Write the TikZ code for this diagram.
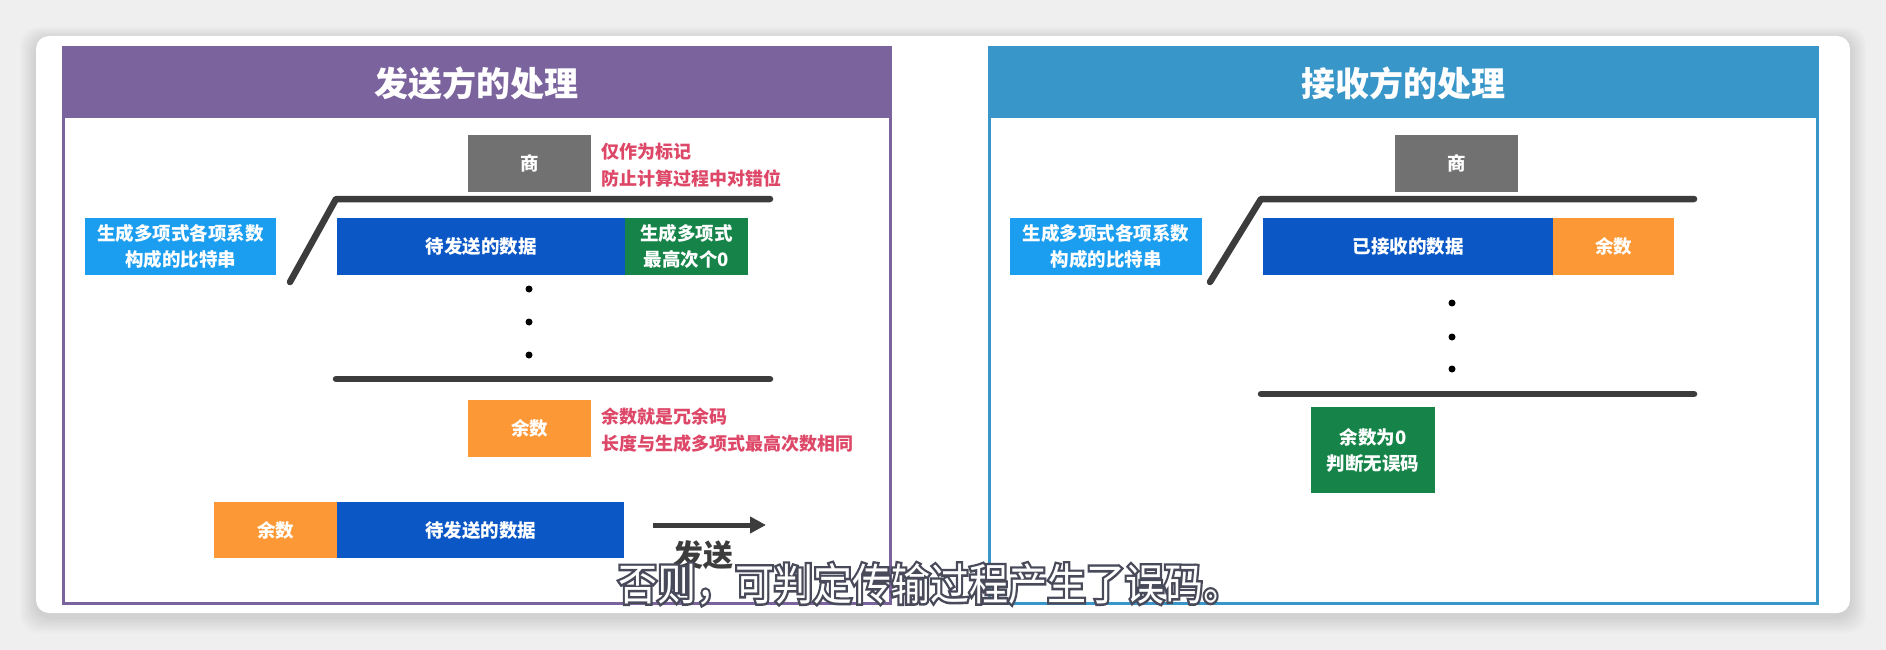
\documentclass[tikz,border=0pt]{standalone}
\usepackage{fontspec}
\setmainfont{Noto Sans CJK SC}
\newfontfamily\subout{Noto Sans CJK SC}[FakeBold=11]
\usetikzlibrary{arrows.meta}
\definecolor{bg}{RGB}{239,239,239}
\definecolor{purp}{RGB}{123,99,158}
\definecolor{skyb}{RGB}{57,150,201}
\definecolor{boxgray}{RGB}{113,113,113}
\definecolor{lblue}{RGB}{27,158,240}
\definecolor{dblue}{RGB}{11,87,198}
\definecolor{dgreen}{RGB}{22,132,72}
\definecolor{orng}{RGB}{253,152,54}
\definecolor{annred}{RGB}{222,72,104}
\definecolor{linec}{RGB}{60,60,60}
\definecolor{subdark}{RGB}{72,74,90}
\begin{document}
\begin{tikzpicture}[x=1pt,y=-1pt,
  bx/.style={inner sep=0pt, outer sep=0pt, text=white, font=\fontsize{18.5}{26}\selectfont\bfseries, align=center, anchor=north west},
  ttl/.style={text=white, font=\fontsize{34}{38}\selectfont\bfseries, inner sep=0pt},
  ann/.style={text=annred, font=\fontsize{18}{27}\selectfont\bfseries, align=left, anchor=west, inner sep=0pt},
  divline/.style={draw=linec, line width=6.5pt, line cap=round, line join=round},
  dotn/.style={circle, fill=black, inner sep=0pt, minimum size=7pt},
  sendarrow/.style={draw=linec, line width=5pt, -{Triangle[length=16pt,width=16pt]}},
  sendlbl/.style={text=linec, font=\fontsize{30}{32}\selectfont\bfseries, inner sep=0pt},
  subo/.style={text=subdark, font=\fontsize{39}{44}\subout, inner sep=0pt},
  subt/.style={text=white, font=\fontsize{39}{44}\selectfont, inner sep=0pt}]
% background and card
\fill[bg] (0,0) rectangle (1886,650);
\foreach \i in {1,...,10}
  \fill[black, opacity=0.012, rounded corners=18pt] (36-\i*1.6, 36-\i*1.2+3) rectangle (1850+\i*1.6, 613+\i*1.6+4);
\fill[white, rounded corners=13pt] (36,36) rectangle (1850,613);
% left panel
\draw[purp, line width=3pt] (63,48) rectangle (890,603);
\fill[purp] (61.5,46.5) rectangle (891.5,118);
\node[ttl] (t1) at (476.5,83) {发送方的处理};
% right panel
\draw[skyb, line width=3pt] (989,48) rectangle (1817,603);
\fill[skyb] (987.5,46.5) rectangle (1818.5,118);
\node[ttl] (t2) at (1403,83) {接收方的处理};
% ---- left content
\node[bx, fill=boxgray, minimum width=123pt, minimum height=57pt] (q1) at (468,135) {商};
\node[ann] (a1) at (601,165) {仅作为标记\\防止计算过程中对错位};
\node[bx, fill=lblue, minimum width=191pt, minimum height=57pt] (g1) at (85,218) {生成多项式各项系数\\构成的比特串};
\coordinate (s1a) at (290,282);
\coordinate (s1b) at (336,199);
\coordinate (s1c) at (770,199);
\draw[divline] (s1a) -- (s1b) -- (s1c);
\node[bx, fill=dblue, minimum width=288pt, minimum height=57pt] (d1) at (337,218) {待发送的数据};
\node[bx, fill=dgreen, minimum width=123pt, minimum height=57pt] (z1) at (625,218) {生成多项式\\最高次个0};
\node[dotn] (p1) at (529,289) {};
\node[dotn] (p2) at (529,322) {};
\node[dotn] (p3) at (529,355) {};
\coordinate (b1a) at (336,379);
\coordinate (b1b) at (770,379);
\draw[divline] (b1a) -- (b1b);
\node[bx, fill=orng, minimum width=123pt, minimum height=57pt] (r1) at (468,400) {余数};
\node[ann] (a2) at (601,430) {余数就是冗余码\\长度与生成多项式最高次数相同};
\node[bx, fill=orng, minimum width=123pt, minimum height=56pt] (r2) at (214,502) {余数};
\node[bx, fill=dblue, minimum width=287pt, minimum height=56pt] (d2) at (337,502) {待发送的数据};
\coordinate (arA) at (653,525);
\coordinate (arB) at (766,525);
\draw[sendarrow] (arA) -- (arB);
\node[sendlbl] (sl) at (703,555) {发送};
% ---- right content
\node[bx, fill=boxgray, minimum width=123pt, minimum height=57pt] (q2) at (1395,135) {商};
\node[bx, fill=lblue, minimum width=192pt, minimum height=57pt] (g2) at (1010,218) {生成多项式各项系数\\构成的比特串};
\coordinate (s2a) at (1210,282);
\coordinate (s2b) at (1261,199);
\coordinate (s2c) at (1694,199);
\draw[divline] (s2a) -- (s2b) -- (s2c);
\node[bx, fill=dblue, minimum width=290pt, minimum height=57pt] (d3) at (1263,218) {已接收的数据};
\node[bx, fill=orng, minimum width=121pt, minimum height=57pt] (r3) at (1553,218) {余数};
\node[dotn] (p4) at (1452,303) {};
\node[dotn] (p5) at (1452,337) {};
\node[dotn] (p6) at (1452,369) {};
\coordinate (b2a) at (1261,394);
\coordinate (b2b) at (1694,394);
\draw[divline] (b2a) -- (b2b);
\node[bx, fill=dgreen, minimum width=124pt, minimum height=86pt] (z2) at (1311,407) {余数为0\\判断无误码};
% subtitle overlay (dark outline under white text)
\node[subo] (subb) at (930,584) {\scalebox{1}[1.12]{否则，可判定传输过程产生了误码。}};
\node[subt] (sub) at (subb.center) {\scalebox{1}[1.12]{否则，可判定传输过程产生了误码。}};
\end{tikzpicture}
\end{document}
